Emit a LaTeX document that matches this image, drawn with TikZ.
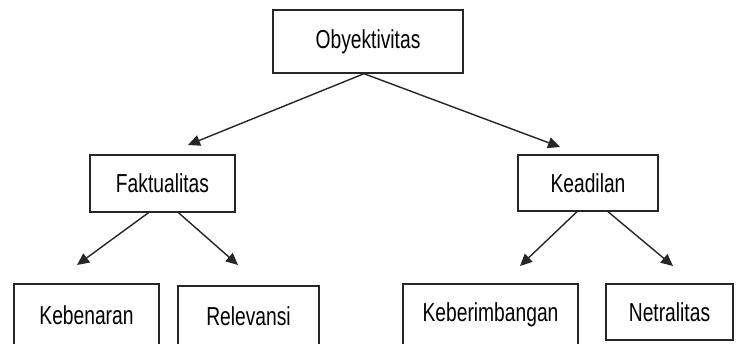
\documentclass[tikz,border=0pt]{standalone}
\usepackage{fontspec}
\usepackage{graphicx}
\setmainfont{Liberation Sans}
\usetikzlibrary{arrows.meta}
\newcommand\sqtx[1]{\scalebox{0.74}[1]{#1}}
\begin{document}
\begin{tikzpicture}[x=1pt,y=1pt,
  box/.style={draw=black!85, line width=1.4pt, inner sep=0pt, fill=white,
    font=\fontsize{26}{30}\selectfont},
  arr/.style={draw=black!85, line width=1.4pt, -{Triangle[length=12pt,width=11pt]}}]
\useasboundingbox (0,0) rectangle (736,343);
\node[box, minimum width=190pt, minimum height=63pt] (oby) at (368,301.5) {\sqtx{Obyektivitas}};
\node[box, minimum width=145pt, minimum height=57pt] (fak) at (162.5,159.5) {\sqtx{Faktualitas}};
\node[box, minimum width=140pt, minimum height=56pt] (kea) at (588,160) {\sqtx{Keadilan}};
\node[box, minimum width=145pt, minimum height=62pt] (keb) at (86.5,28) {\sqtx{Kebenaran}};
\node[box, minimum width=141pt, minimum height=60pt] (rel) at (248.5,27) {\sqtx{Relevansi}};
\node[box, minimum width=175pt, minimum height=62pt] (kbr) at (490.5,28) {\sqtx{Keberimbangan}};
\node[box, minimum width=127pt, minimum height=56pt] (net) at (669.5,31) {\sqtx{Netralitas}};
\coordinate (t1) at (188,198);
\coordinate (t2) at (560,196);
\coordinate (t3) at (77,78);
\coordinate (t4) at (238,78);
\coordinate (t5) at (520,77);
\coordinate (t6) at (673,77);
\draw[arr] ([xshift=-4pt]oby.south) -- (t1);
\draw[arr] ([xshift=-4pt]oby.south) -- (t2);
\draw[arr] ([xshift=-14pt]fak.south) -- (t3);
\draw[arr] ([xshift=16pt]fak.south) -- (t4);
\draw[arr] ([xshift=-11pt]kea.south) -- (t5);
\draw[arr] ([xshift=20pt]kea.south) -- (t6);
\end{tikzpicture}
\end{document}
